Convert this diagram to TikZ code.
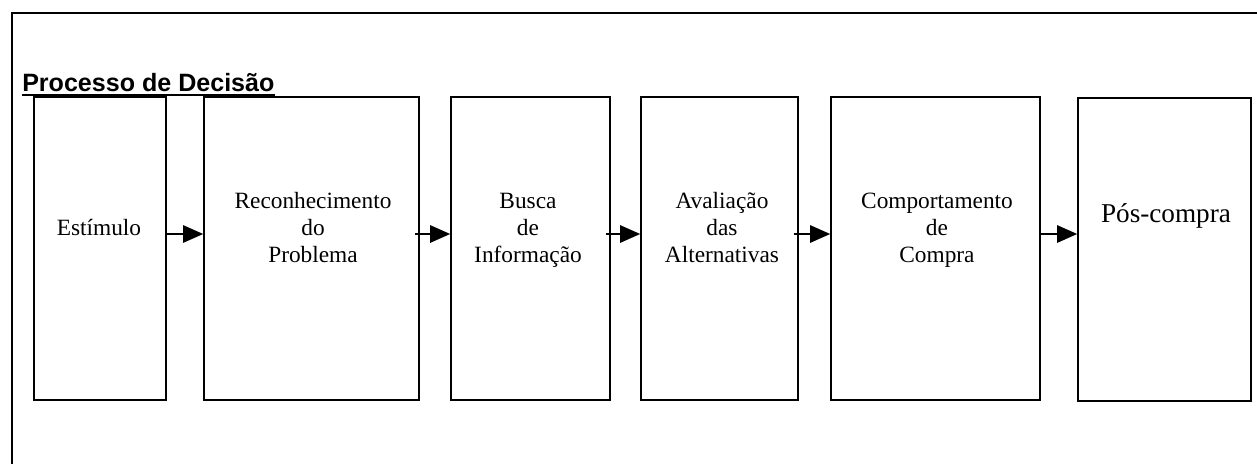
\documentclass[tikz,border=0pt]{standalone}
\usepackage{fontspec}
\setmainfont{Liberation Serif}
\newfontfamily\titlefont{Liberation Sans}
\usetikzlibrary{arrows.meta}
\tikzset{
  stagebox/.style={draw, line width=1.2pt, inner sep=0pt},
  stagetext/.style={align=center, inner sep=0pt, anchor=base, font=\fontsize{17.5}{20.25}\selectfont},
  flow/.style={line width=1.2pt, -{Triangle[length=15pt,width=13pt]}},
  frame/.style={line width=1.2pt},
}
\begin{document}
\begin{tikzpicture}[x=0.75pt,y=-0.75pt]
\useasboundingbox (0,0) rectangle (1257,464);
% outer frame (open at right and bottom)
\coordinate (fbl) at (12,464);
\coordinate (ftl) at (12,13);
\coordinate (ftr) at (1257,13);
\draw[frame] (fbl) -- (ftl) -- (ftr);
% title
\node[inner sep=0pt, anchor=base west, font=\titlefont\bfseries\fontsize{18.8}{22}\selectfont] (title) at (22,91) {Processo de Decisão};
\draw[line width=1.3pt] ([yshift=-4*0.75pt]title.base west) -- ([yshift=-4*0.75pt]title.base east);
% boxes
\node[stagebox, minimum width=132*0.75pt, minimum height=303*0.75pt] (b1) at (100,248.5) {};
\node[stagebox, minimum width=215*0.75pt, minimum height=303*0.75pt] (b2) at (311.5,248.5) {};
\node[stagebox, minimum width=159*0.75pt, minimum height=303*0.75pt] (b3) at (530.5,248.5) {};
\node[stagebox, minimum width=157*0.75pt, minimum height=303*0.75pt] (b4) at (719.5,248.5) {};
\node[stagebox, minimum width=209*0.75pt, minimum height=303*0.75pt] (b5) at (935.5,248.5) {};
\node[stagebox, minimum width=173*0.75pt, minimum height=303*0.75pt] (b6) at (1164.5,249.5) {};
% texts
\node[stagetext] (t1) at (99,235) {Estímulo};
\node[stagetext] (t2) at (313,262) {Reconhecimento\\do\\Problema};
\node[stagetext] (t3) at (528,262) {Busca\\de\\Informação};
\node[stagetext] (t4) at (722,262) {Avaliação\\das\\Alternativas};
\node[stagetext] (t5) at (937,262) {Comportamento\\de\\Compra};
\node[stagetext, font=\fontsize{20.4}{24}\selectfont] (t6) at (1166,222) {Pós-compra};
% arrows
\coordinate (ay) at (0,234);
\draw[flow] (b1.east |- ay) -- (b2.west |- ay);
\draw[flow] ([xshift=-5*0.75pt]b2.east |- ay) -- (b3.west |- ay);
\draw[flow] ([xshift=-5*0.75pt]b3.east |- ay) -- (b4.west |- ay);
\draw[flow] ([xshift=-5*0.75pt]b4.east |- ay) -- (b5.west |- ay);
\draw[flow] (b5.east |- ay) -- (b6.west |- ay);
\end{tikzpicture}
\end{document}
